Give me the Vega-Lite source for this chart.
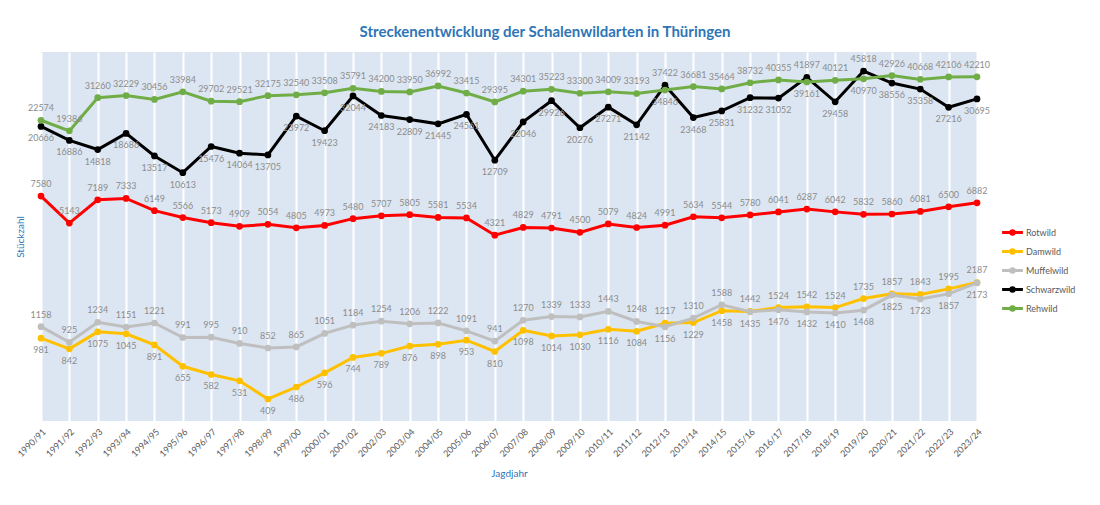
{
  "$schema": "https://vega.github.io/schema/vega-lite/v6.json",
  "autosize": {"type": "none"},
  "width": 936,
  "height": 369,
  "padding": {"left": 41, "top": 52, "right": 123, "bottom": 84},
  "background": "white",
  "config": {
    "font": "Lato",
    "view": {"fill": "#dce6f2", "stroke": null}
  },
  "title": {
    "text": "Streckenentwicklung der Schalenwildarten in Thüringen",
    "fontSize": 15,
    "fontWeight": "bold",
    "color": "#2e75b6",
    "offset": 12,
    "dx": 36
  },
  "data": {
    "values": [
      {"Jahr": "1990/91", "Rotwild": 7580, "Damwild": 981, "Muffelwild": 1158, "Schwarzwild": 20666, "Rehwild": 22574},
      {"Jahr": "1991/92", "Rotwild": 5143, "Damwild": 842, "Muffelwild": 925, "Schwarzwild": 16886, "Rehwild": 19386},
      {"Jahr": "1992/93", "Rotwild": 7189, "Damwild": 1075, "Muffelwild": 1234, "Schwarzwild": 14818, "Rehwild": 31260},
      {"Jahr": "1993/94", "Rotwild": 7333, "Damwild": 1045, "Muffelwild": 1151, "Schwarzwild": 18686, "Rehwild": 32229},
      {"Jahr": "1994/95", "Rotwild": 6149, "Damwild": 891, "Muffelwild": 1221, "Schwarzwild": 13517, "Rehwild": 30456},
      {"Jahr": "1995/96", "Rotwild": 5566, "Damwild": 655, "Muffelwild": 991, "Schwarzwild": 10613, "Rehwild": 33984},
      {"Jahr": "1996/97", "Rotwild": 5173, "Damwild": 582, "Muffelwild": 995, "Schwarzwild": 15476, "Rehwild": 29702},
      {"Jahr": "1997/98", "Rotwild": 4909, "Damwild": 531, "Muffelwild": 910, "Schwarzwild": 14064, "Rehwild": 29521},
      {"Jahr": "1998/99", "Rotwild": 5054, "Damwild": 409, "Muffelwild": 852, "Schwarzwild": 13705, "Rehwild": 32175},
      {"Jahr": "1999/00", "Rotwild": 4805, "Damwild": 486, "Muffelwild": 865, "Schwarzwild": 23972, "Rehwild": 32540},
      {"Jahr": "2000/01", "Rotwild": 4973, "Damwild": 596, "Muffelwild": 1051, "Schwarzwild": 19423, "Rehwild": 33508},
      {"Jahr": "2001/02", "Rotwild": 5480, "Damwild": 744, "Muffelwild": 1184, "Schwarzwild": 32044, "Rehwild": 35791},
      {"Jahr": "2002/03", "Rotwild": 5707, "Damwild": 789, "Muffelwild": 1254, "Schwarzwild": 24183, "Rehwild": 34200},
      {"Jahr": "2003/04", "Rotwild": 5805, "Damwild": 876, "Muffelwild": 1206, "Schwarzwild": 22809, "Rehwild": 33950},
      {"Jahr": "2004/05", "Rotwild": 5581, "Damwild": 898, "Muffelwild": 1222, "Schwarzwild": 21445, "Rehwild": 36992},
      {"Jahr": "2005/06", "Rotwild": 5534, "Damwild": 953, "Muffelwild": 1091, "Schwarzwild": 24561, "Rehwild": 33415},
      {"Jahr": "2006/07", "Rotwild": 4321, "Damwild": 810, "Muffelwild": 941, "Schwarzwild": 12709, "Rehwild": 29395},
      {"Jahr": "2007/08", "Rotwild": 4829, "Damwild": 1098, "Muffelwild": 1270, "Schwarzwild": 22046, "Rehwild": 34301},
      {"Jahr": "2008/09", "Rotwild": 4791, "Damwild": 1014, "Muffelwild": 1339, "Schwarzwild": 29926, "Rehwild": 35223},
      {"Jahr": "2009/10", "Rotwild": 4500, "Damwild": 1030, "Muffelwild": 1333, "Schwarzwild": 20276, "Rehwild": 33300},
      {"Jahr": "2010/11", "Rotwild": 5079, "Damwild": 1116, "Muffelwild": 1443, "Schwarzwild": 27271, "Rehwild": 34009},
      {"Jahr": "2011/12", "Rotwild": 4824, "Damwild": 1084, "Muffelwild": 1248, "Schwarzwild": 21142, "Rehwild": 33193},
      {"Jahr": "2012/13", "Rotwild": 4991, "Damwild": 1217, "Muffelwild": 1156, "Schwarzwild": 37422, "Rehwild": 34846},
      {"Jahr": "2013/14", "Rotwild": 5634, "Damwild": 1229, "Muffelwild": 1310, "Schwarzwild": 23468, "Rehwild": 36681},
      {"Jahr": "2014/15", "Rotwild": 5544, "Damwild": 1458, "Muffelwild": 1588, "Schwarzwild": 25831, "Rehwild": 35464},
      {"Jahr": "2015/16", "Rotwild": 5780, "Damwild": 1442, "Muffelwild": 1435, "Schwarzwild": 31232, "Rehwild": 38732},
      {"Jahr": "2016/17", "Rotwild": 6041, "Damwild": 1524, "Muffelwild": 1476, "Schwarzwild": 31052, "Rehwild": 40355},
      {"Jahr": "2017/18", "Rotwild": 6287, "Damwild": 1542, "Muffelwild": 1432, "Schwarzwild": 41897, "Rehwild": 39161},
      {"Jahr": "2018/19", "Rotwild": 6042, "Damwild": 1524, "Muffelwild": 1410, "Schwarzwild": 29458, "Rehwild": 40121},
      {"Jahr": "2019/20", "Rotwild": 5832, "Damwild": 1735, "Muffelwild": 1468, "Schwarzwild": 45818, "Rehwild": 40970},
      {"Jahr": "2020/21", "Rotwild": 5860, "Damwild": 1857, "Muffelwild": 1825, "Schwarzwild": 38556, "Rehwild": 42926},
      {"Jahr": "2021/22", "Rotwild": 6081, "Damwild": 1843, "Muffelwild": 1723, "Schwarzwild": 35358, "Rehwild": 40668},
      {"Jahr": "2022/23", "Rotwild": 6500, "Damwild": 1995, "Muffelwild": 1857, "Schwarzwild": 27216, "Rehwild": 42106},
      {"Jahr": "2023/24", "Rotwild": 6882, "Damwild": 2187, "Muffelwild": 2173, "Schwarzwild": 30695, "Rehwild": 42210}
    ]
  },
  "transform": [
    {"fold": ["Rotwild", "Damwild", "Muffelwild", "Schwarzwild", "Rehwild"], "as": ["Wildart", "Strecke"]}
  ],
  "encoding": {
    "x": {
      "field": "Jahr",
      "type": "ordinal",
      "sort": null,
      "scale": {"type": "point", "padding": 0},
      "axis": {
        "title": "Jagdjahr",
        "labelAngle": -45,
        "labelFontSize": 9,
        "labelColor": "#595959",
        "labelPadding": 6,
        "grid": true,
        "gridColor": "white",
        "gridWidth": 2,
        "ticks": false,
        "domain": false,
        "titleColor": "#2e75b6",
        "titleFontSize": 10,
        "titleFontWeight": "normal",
        "titlePadding": 10
      }
    },
    "y": {
      "field": "Strecke",
      "type": "quantitative",
      "scale": {"type": "log", "domain": [298, 60300], "nice": false},
      "axis": {
        "title": "Stückzahl",
        "labels": false,
        "ticks": false,
        "domain": false,
        "grid": false,
        "titleColor": "#2e75b6",
        "titleFontSize": 10,
        "titleFontWeight": "normal",
        "titlePadding": 16
      }
    }
  },
  "layer": [
    {
      "mark": {"type": "line", "strokeWidth": 3, "point": {"filled": true, "size": 45}},
      "encoding": {
        "color": {
          "field": "Wildart",
          "type": "nominal",
          "scale": {
            "domain": ["Rotwild", "Damwild", "Muffelwild", "Schwarzwild", "Rehwild"],
            "range": ["#ff0000", "#ffc000", "#bfbfbf", "#000000", "#70ad47"]
          },
          "legend": {
            "title": null,
            "orient": "none",
            "legendX": 961,
            "legendY": 170,
            "symbolType": "M-1.2,0L1.2,0M0.2,0A0.2,0.2 0 1,1 -0.2,0A0.2,0.2 0 1,1 0.2,0",
            "symbolSize": 300,
            "symbolStrokeWidth": 3,
            "labelFontSize": 9,
            "labelColor": "#595959",
            "labelOffset": 3,
            "rowPadding": 0
          }
        }
      }
    },
    {
      "transform": [
        {"filter": "datum.Wildart == 'Rotwild' || (datum.Wildart == 'Rehwild' && datum.Rehwild >= datum.Schwarzwild) || (datum.Wildart == 'Schwarzwild' && datum.Schwarzwild > datum.Rehwild) || (datum.Wildart == 'Muffelwild' && datum.Muffelwild >= datum.Damwild) || (datum.Wildart == 'Damwild' && datum.Damwild > datum.Muffelwild)"}
      ],
      "mark": {"type": "text", "dy": -12, "fontSize": 9, "color": "#8c8c8c"},
      "encoding": {"text": {"field": "Strecke", "type": "quantitative", "format": "d"}}
    },
    {
      "transform": [
        {"filter": "!(datum.Wildart == 'Rotwild' || (datum.Wildart == 'Rehwild' && datum.Rehwild >= datum.Schwarzwild) || (datum.Wildart == 'Schwarzwild' && datum.Schwarzwild > datum.Rehwild) || (datum.Wildart == 'Muffelwild' && datum.Muffelwild >= datum.Damwild) || (datum.Wildart == 'Damwild' && datum.Damwild > datum.Muffelwild))"}
      ],
      "mark": {"type": "text", "dy": 12, "fontSize": 9, "color": "#8c8c8c"},
      "encoding": {"text": {"field": "Strecke", "type": "quantitative", "format": "d"}}
    }
  ]
}
